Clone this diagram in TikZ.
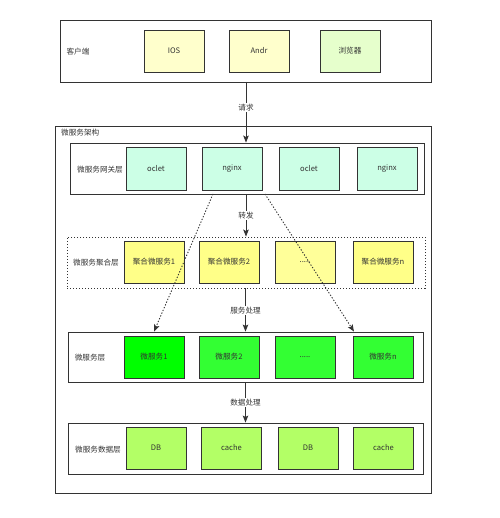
\documentclass[tikz,border=0pt]{standalone}
\usepackage{fontspec}
\setmainfont{Noto Sans CJK SC}
\usetikzlibrary{arrows.meta}
\definecolor{dg}{HTML}{333333}
\definecolor{txt}{HTML}{333333}
\definecolor{cly}{HTML}{FFFFCC}
\definecolor{clg}{HTML}{E6FFCC}
\definecolor{gwc}{HTML}{CCFFE6}
\definecolor{agc}{HTML}{FFFF88}
\definecolor{agd}{HTML}{FFFF99}
\definecolor{ms1}{HTML}{00FF00}
\definecolor{msc}{HTML}{33FF33}
\definecolor{dbc}{HTML}{B3FF66}
\tikzset{
  layer/.style={draw=dg, line width=0.9pt, fill=white, inner sep=0pt},
  itembox/.style={draw=dg, line width=0.9pt, minimum width=60pt, minimum height=42pt, inner sep=0pt, font=\fontsize{7.6}{9}\selectfont, text=txt},
  lbl/.style={font=\fontsize{7.6}{9}\selectfont, text=txt, inner sep=0pt},
  arrlbl/.style={font=\fontsize{7.6}{9}\selectfont, text=txt, fill=white, inner sep=1pt},
  dotline/.style={dash pattern=on 1.3pt off 1.7pt},
  arr/.style={draw=dg, line width=0.9pt, -{Stealth[length=7pt,width=5.5pt,inset=1.5pt]}},
  dotarr/.style={draw=dg, line width=0.9pt, dotline, -{Stealth[length=7pt,width=5.5pt,inset=1.5pt]}},
}
\begin{document}
\begin{tikzpicture}[x=1pt,y=-1pt]
\useasboundingbox (0,0) rectangle (499,518);
% client layer
\node[layer, minimum width=371pt, minimum height=62pt] (client) at (245.5,51) {};
\node[lbl] (clientl) at (78,52) {客户端};
\node[itembox, fill=cly] (ios) at (174,51) {IOS};
\node[itembox, fill=cly] (andr) at (259,51) {Andr};
\node[itembox, fill=clg] (browser) at (350,51) {浏览器};
% outer
\node[layer, minimum width=376pt, minimum height=367pt] (outer) at (243,309.5) {};
\node[lbl, anchor=west] (outerl) at (61,132.5) {微服务架构};
% gateway
\node[layer, minimum width=354pt, minimum height=51pt] (gw) at (247,168.5) {};
\node[lbl] (gwl) at (100,170) {微服务网关层};
\node[itembox, fill=gwc, minimum height=43pt] (gw1) at (156,168.5) {oclet};
\node[itembox, fill=gwc, minimum height=43pt] (gw2) at (232,168.5) {nginx};
\node[itembox, fill=gwc, minimum height=43pt] (gw3) at (309,168.5) {oclet};
\node[itembox, fill=gwc, minimum height=43pt] (gw4) at (387,168.5) {nginx};
% aggregation
\node[layer, dotline, minimum width=358pt, minimum height=51pt] (agg) at (246,262.5) {};
\node[lbl] (aggl) at (96,263) {微服务聚合层};
\node[itembox, fill=agc] (ag1) at (154,262) {聚合微服务1};
\node[itembox, fill=agc] (ag2) at (229,262) {聚合微服务2};
\node[itembox, fill=agd] (ag3) at (305,262) {.....};
\node[itembox, fill=agc] (ag4) at (383,262) {聚合微服务n};
% microservice
\node[layer, minimum width=355pt, minimum height=50pt] (ms) at (245.5,357) {};
\node[lbl] (msl) at (90,358) {微服务层};
\node[itembox, fill=ms1] (ms1n) at (154,357) {微服务1};
\node[itembox, fill=msc] (ms2n) at (229,357) {微服务2};
\node[itembox, fill=msc] (ms3n) at (305,357) {.....};
\node[itembox, fill=msc] (ms4n) at (383,357) {微服务n};
% data
\node[layer, minimum width=355pt, minimum height=51pt] (data) at (245.5,448.5) {};
\node[lbl] (datal) at (98,450) {微服务数据层};
\node[itembox, fill=dbc] (db1) at (156,448) {DB};
\node[itembox, fill=dbc] (db2) at (231.5,448) {cache};
\node[itembox, fill=dbc] (db3) at (308,448) {DB};
\node[itembox, fill=dbc] (db4) at (383.5,448) {cache};
% arrows
\coordinate (a1s) at (246,82);
\draw[arr] (a1s) -- (a1s |- gw.north) node[arrlbl, pos=0.42] {请求};
\coordinate (a2s) at (246,194);
\draw[arr] (a2s) -- (a2s |- agg.north) node[arrlbl, pos=0.5] {转发};
\coordinate (a3s) at (245.5,288);
\draw[arr] (a3s) -- (a3s |- ms.north) node[arrlbl, pos=0.52] {服务处理};
\coordinate (a4s) at (245.5,382);
\draw[arr] (a4s) -- (a4s |- data.north) node[arrlbl, pos=0.5] {数据处理};
% dotted arrows
\coordinate (d1s) at (213,194);
\coordinate (d2s) at (265,194);
\draw[dotarr] (d1s) -- (ms1n.north |- ms.north);
\draw[dotarr] (d2s) -- ([xshift=-29pt]ms4n.north |- ms.north);
\end{tikzpicture}
\end{document}
